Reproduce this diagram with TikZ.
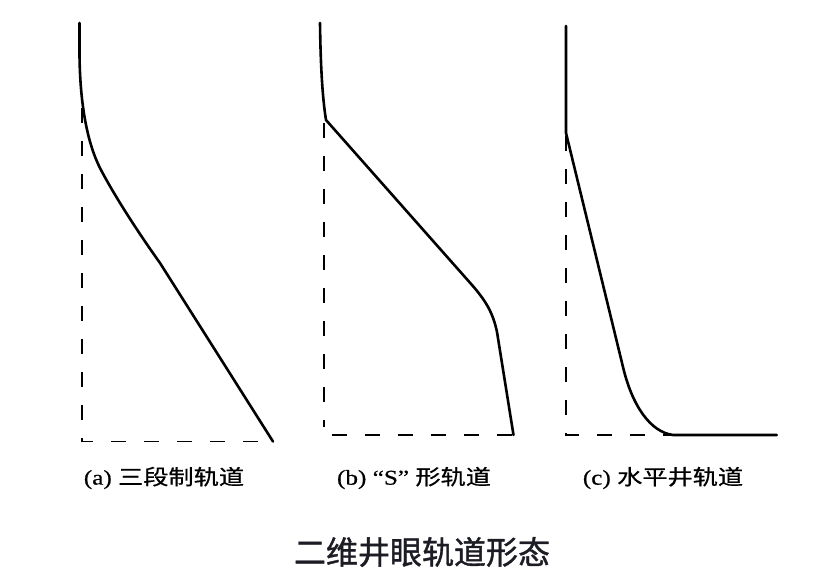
\documentclass[tikz,border=0pt]{standalone}
\usepackage{fontspec}
\setmainfont{Liberation Serif}[FakeBold=0.6]
\newfontfamily\cjk{Noto Sans CJK SC}[FakeBold=0.6]
\newfontfamily\cjkt{Noto Sans CJK SC}[FakeBold=1.2]
\begin{document}
\begin{tikzpicture}[x=1pt,y=-1pt,
  well/.style={line width=2.6pt,line join=round,line cap=round},
  guide/.style={line width=1.8pt,dash pattern=on 15pt off 18pt},
  lbl/.style={inner sep=0pt,font=\fontsize{21}{21}\selectfont},
  ttl/.style={inner sep=0pt,font=\fontsize{32}{32}\selectfont\cjkt,text={rgb,255:red,28;green,28;blue,36}}]
\useasboundingbox[fill=white] (0,0) rectangle (821,587);
% ---- (a) three-segment
\coordinate (a0) at (79.5,23);
\coordinate (a1) at (79.5,55);
\coordinate (a2) at (100,168);
\coordinate (a3) at (160,263);
\coordinate (a4) at (273,441.5);
\coordinate (ad0) at (81.7,108);
\coordinate (ad1) at (81.7,441.5);
\draw[well] (a0) -- (a1) .. controls (80,100) and (86,140) .. (a2)
  .. controls (115,197) and (140,235) .. (a3) -- (a4);
\draw[guide] (ad0) -- (ad1) -- (a4);
% ---- (b) S-shape
\coordinate (b0) at (320,23);
\coordinate (b1) at (326,120);
\coordinate (b2) at (472,285);
\coordinate (b3) at (497,332);
\coordinate (b4) at (513.5,435);
\coordinate (bd0) at (324.3,123);
\coordinate (bd1) at (324.3,427);
\coordinate (bd2) at (331.7,435);
\draw[well] (b0) .. controls (320.5,60) and (322,95) .. (b1) -- (b2)
  .. controls (486,301) and (493,313) .. (b3) -- (b4);
\draw[guide] (bd0) -- (bd1);
\draw[guide] (bd2) -- (b4);
% ---- (c) horizontal well
\coordinate (c0) at (566,26);
\coordinate (c1) at (566,133);
\coordinate (c2) at (623,367);
\coordinate (c3) at (673,435);
\coordinate (c4) at (776.7,435);
\coordinate (cd0) at (566,136);
\coordinate (cd1) at (566,435);
\draw[well] (c0) -- (c1) -- (c2) .. controls (632,405) and (650,432) .. (c3) -- (c4);
\draw[guide] (cd0) -- (cd1) -- (c3);
% ---- labels
\node[lbl] (la) at (164,478) {\scalebox{1.2}[1]{(a) {\cjk 三段制轨道}}};
\node[lbl] (lb) at (414,478) {\scalebox{1.2}[1]{(b) “S” {\cjk 形轨道}}};
\node[lbl] (lc) at (663,478) {\scalebox{1.2}[1]{(c) {\cjk 水平井轨道}}};
\node[ttl] (title) at (422,552) {二维井眼轨道形态};
\end{tikzpicture}
\end{document}
